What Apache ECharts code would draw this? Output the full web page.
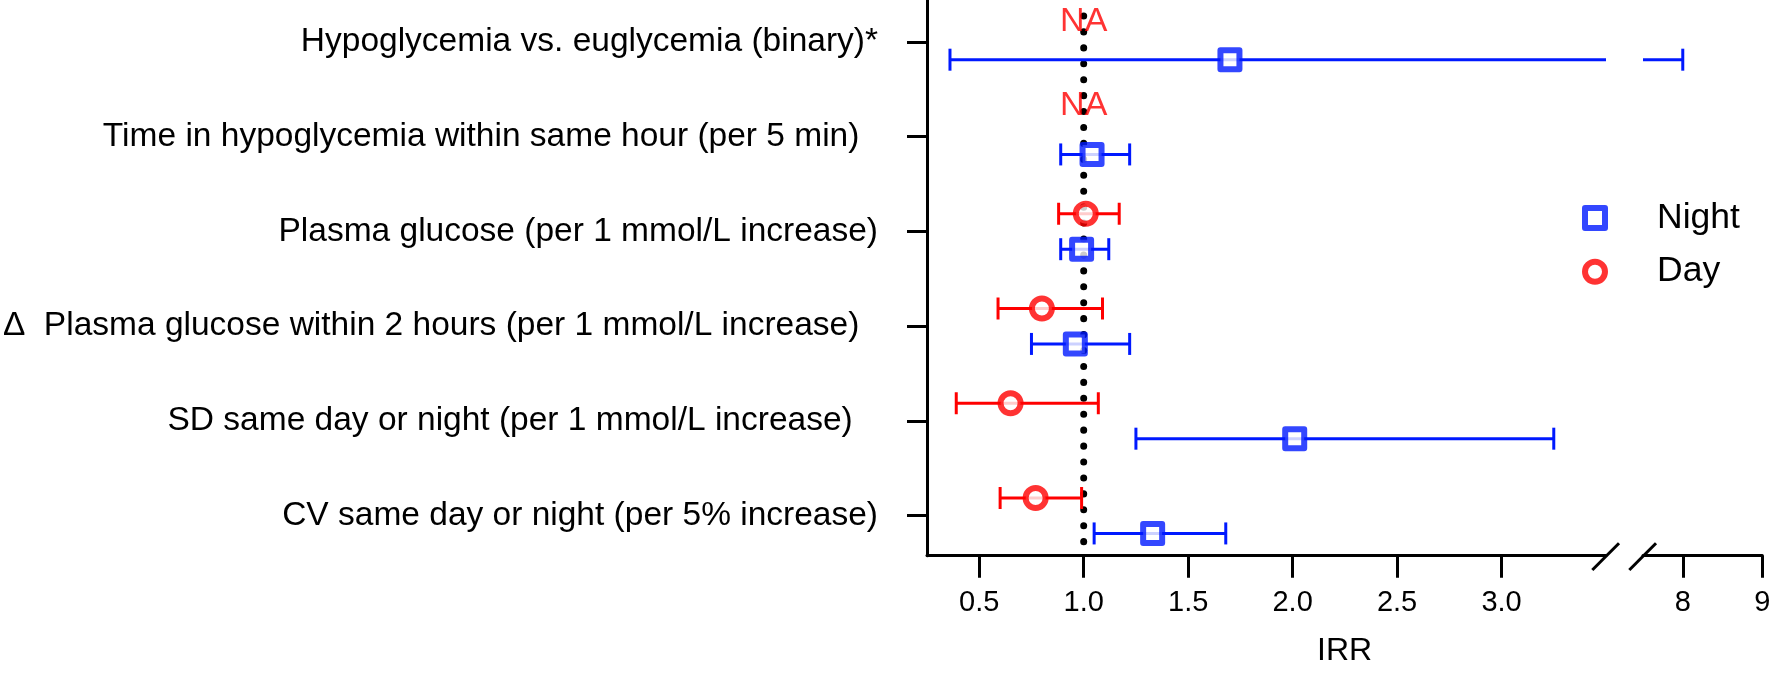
<!DOCTYPE html>
<html><head><meta charset="utf-8">
<script src="https://cdn.jsdelivr.net/npm/echarts@6/dist/echarts.min.js"></script>
<style>html,body{margin:0;padding:0;background:#fff}#c{width:1769px;height:674px}</style>
</head><body><div id="c"></div>
<script>
// ---- data ----
const categories = [
  'Hypoglycemia vs. euglycemia (binary)*',
  'Time in hypoglycemia within same hour (per 5 min)  ',
  'Plasma glucose (per 1 mmol/L increase)',
  '\u0394  Plasma glucose within 2 hours (per 1 mmol/L increase)  ',
  'SD same day or night (per 1 mmol/L increase)  \u2009',
  'CV same day or night (per 5% increase)'
];
const categoryPos = [6, 5, 4, 3, 2, 1];
const nightIRR   = [1.70, 1.04, 0.99, 0.96, 2.01, 1.33];
const nightLower = [0.36, 0.89, 0.89, 0.75, 1.25, 1.05];
const nightUpper = [8.00, 1.22, 1.12, 1.22, 3.25, 1.68];
const dayIRR     = [null, null, 1.01, 0.80, 0.65, 0.77];
const dayLower   = [null, null, 0.88, 0.59, 0.39, 0.60];
const dayUpper   = [null, null, 1.17, 1.09, 1.07, 0.99];
const naText = 'NA';
const naY = [6.21, 5.33];
const xTicksLeft = [0.5, 1.0, 1.5, 2.0, 2.5, 3.0];
const xTicksRight = [8, 9];
const refValue = 1;

// ---- style ----
const BLUE = '#0019ff';
const RED = '#ff0000';
const FONT = '"Liberation Sans", Arial, Helvetica, sans-serif';
const OFF = 0.187;

const nightPts = [], nightCI = [], dayPts = [], dayCI = [], naPts = [];
categoryPos.forEach((p, i) => {
  nightPts.push([nightIRR[i], p - OFF]);
  nightCI.push([nightLower[i], nightUpper[i], p - OFF]);
  if (dayIRR[i] != null) {
    dayPts.push([dayIRR[i], p + OFF]);
    dayCI.push([dayLower[i], dayUpper[i], p + OFF]);
  }
});
naY.forEach(y => naPts.push([refValue, y]));

function ciRenderer(color) {
  return function (params, api) {
    const lo = api.value(0), hi = api.value(1), y = api.value(2);
    const cs = params.coordSys;
    const x0 = cs.x, x1 = cs.x + cs.width;
    const pLo = api.coord([lo, y]), pHi = api.coord([hi, y]);
    const a = pLo[0], b = pHi[0], py = pLo[1];
    if (b < x0 - 0.5 || a > x1 + 0.5) return null;
    const style = {stroke: color, lineWidth: 3, fill: null};
    const ch = [{type: 'line', shape: {x1: Math.max(a, x0), y1: py, x2: Math.min(b, x1), y2: py}, style}];
    if (a >= x0 - 0.5) ch.push({type: 'line', shape: {x1: a, y1: py - 11, x2: a, y2: py + 11}, style});
    if (b <= x1 + 0.5) ch.push({type: 'line', shape: {x1: b, y1: py - 11, x2: b, y2: py + 11}, style});
    return {type: 'group', children: ch};
  };
}

const axisLineStyle = {color: '#000', width: 3};
const yMin = 0.578, yMax = 6.443;
const gridTop = 0, gridH = 555.7;

const option = {
  animation: false,
  backgroundColor: '#fff',
  textStyle: {fontFamily: FONT},
  grid: [
    {left: 927, top: gridTop, width: 679, height: gridH, containLabel: false, outerBoundsMode: 'none'},
    {left: 1643, top: gridTop, width: 119.3, height: gridH, containLabel: false, outerBoundsMode: 'none'},
    {left: 927, top: gridTop, width: 835.3, height: gridH, containLabel: false, outerBoundsMode: 'none'}
  ],
  xAxis: [
    {
      type: 'value', gridIndex: 0, min: 0.25, max: 3.5,
      axisLine: {show: true, onZero: false, lineStyle: axisLineStyle},
      axisTick: {show: true, length: 22, lineStyle: axisLineStyle, customValues: xTicksLeft},
      axisLabel: {show: true, customValues: xTicksLeft, formatter: v => v.toFixed(1),
        fontSize: 29, color: '#000', fontFamily: FONT, margin: 33},
      splitLine: {show: false}
    },
    {
      type: 'value', gridIndex: 1, min: 7.5, max: 9,
      axisLine: {show: true, onZero: false, lineStyle: axisLineStyle},
      axisTick: {show: true, length: 22, lineStyle: axisLineStyle, customValues: xTicksRight},
      axisLabel: {show: true, customValues: xTicksRight, formatter: v => String(v),
        fontSize: 29, color: '#000', fontFamily: FONT, margin: 33},
      splitLine: {show: false}
    },
    {
      type: 'value', gridIndex: 2, min: 0, max: 1,
      axisLine: {show: false}, axisTick: {show: false}, axisLabel: {show: false}, splitLine: {show: false},
      name: 'IRR', nameLocation: 'middle', nameGap: 79,
      nameTextStyle: {fontSize: 32, color: '#000', fontFamily: FONT}
    }
  ],
  yAxis: [
    {
      type: 'value', gridIndex: 0, min: yMin, max: yMax,
      axisLine: {show: true, onZero: false, lineStyle: axisLineStyle},
      axisTick: {show: true, length: 20, lineStyle: axisLineStyle, customValues: categoryPos},
      axisLabel: {show: true, customValues: categoryPos,
        formatter: v => categories[categoryPos.indexOf(Math.round(v))] || '',
        fontSize: 33.5, color: '#000', fontFamily: FONT, margin: 49},
      splitLine: {show: false}
    },
    {type: 'value', gridIndex: 1, min: yMin, max: yMax, show: false},
    {type: 'value', gridIndex: 2, min: yMin, max: yMax, show: false}
  ],
  legend: {
    orient: 'vertical', left: 1582, top: 200, padding: 0, itemGap: 17.7,
    itemWidth: 20, itemHeight: 20, selectedMode: false,
    data: [
      {name: 'Night', icon: 'rect', itemStyle: {color: '#fff', borderColor: BLUE, borderWidth: 6, borderJoin: 'round'}},
      {name: 'Day', icon: 'circle', itemStyle: {color: '#fff', borderColor: RED, borderWidth: 6}}
    ],
    textStyle: {fontSize: 35.5, color: '#000', fontFamily: FONT, lineHeight: 35, padding: [0, 0, 0, 47]}
  },
  graphic: [
    {type: 'line', shape: {x1: 1592.3, y1: 570, x2: 1619, y2: 543.3}, style: {stroke: '#000', lineWidth: 3}, z: 10},
    {type: 'line', shape: {x1: 1629.3, y1: 570, x2: 1656, y2: 543.3}, style: {stroke: '#000', lineWidth: 3}, z: 10}
  ],
  series: [
    {
      name: 'ref', type: 'line', xAxisIndex: 0, yAxisIndex: 0, z: 1,
      data: [[refValue, 0.7256], [refValue, 6.425]], symbol: 'none', silent: true,
      lineStyle: {color: '#000', width: 7, type: [0.1, 15.83], cap: 'round'}
    },
    {name: 'Night CI L', type: 'custom', xAxisIndex: 0, yAxisIndex: 0, z: 2, data: nightCI, renderItem: ciRenderer(BLUE), silent: true},
    {name: 'Night CI R', type: 'custom', xAxisIndex: 1, yAxisIndex: 1, z: 2, data: nightCI, renderItem: ciRenderer(BLUE), silent: true},
    {name: 'Day CI', type: 'custom', xAxisIndex: 0, yAxisIndex: 0, z: 2, data: dayCI, renderItem: ciRenderer(RED), silent: true},
    {
      name: 'Night', type: 'scatter', xAxisIndex: 0, yAxisIndex: 0, z: 4, data: nightPts,
      symbol: 'rect', symbolSize: 19,
      itemStyle: {color: '#fff', borderColor: BLUE, borderWidth: 6, borderJoin: 'round'}
    },
    {
      name: 'Day', type: 'scatter', xAxisIndex: 0, yAxisIndex: 0, z: 4, data: dayPts,
      symbol: 'circle', symbolSize: 20,
      itemStyle: {color: '#fff', borderColor: RED, borderWidth: 6}
    },
    {
      name: 'NA', type: 'scatter', xAxisIndex: 0, yAxisIndex: 0, z: 5, data: naPts,
      symbolSize: 0, silent: true,
      label: {show: true, position: 'inside', formatter: naText, color: RED, fontSize: 34, fontFamily: FONT}
    }
  ]
};
const chart = echarts.init(document.getElementById('c'), null, {renderer: 'canvas'});
chart.setOption(option);
</script>
</body></html>
